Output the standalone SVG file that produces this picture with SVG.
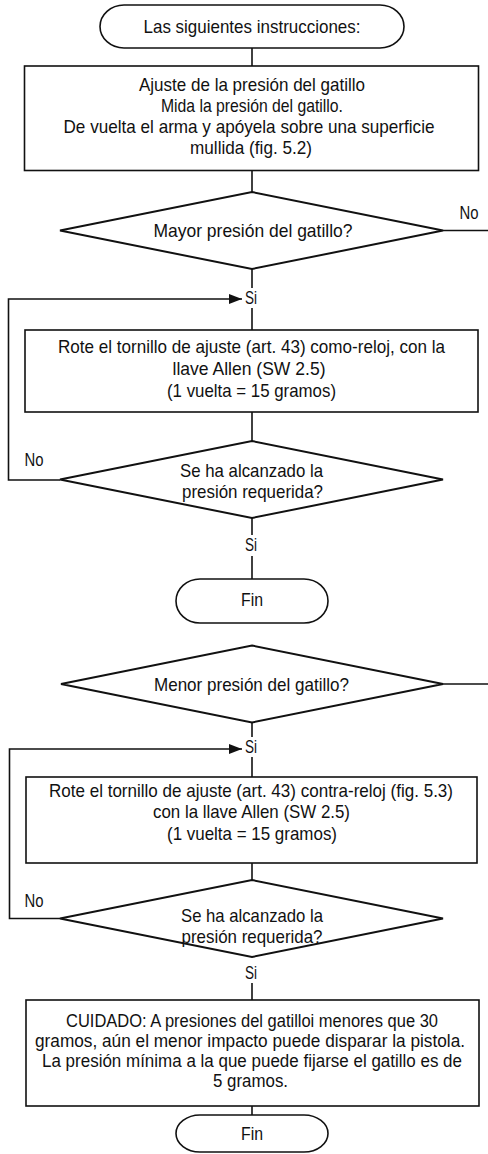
<svg xmlns="http://www.w3.org/2000/svg" width="488" height="1154" viewBox="0 0 488 1154">
<style>
  .shape { fill: #ffffff; stroke: #111111; stroke-width: 1.6; }
  .dia { fill: #ffffff; stroke: #111111; stroke-width: 2; stroke-linejoin: miter; }
  .line { fill: none; stroke: #111111; stroke-width: 1.6; }
  text { font-family: "Liberation Sans", Arial, sans-serif; font-size: 18.5px; fill: #111111; text-anchor: middle; }
  .small { font-size: 17.5px; }
</style>
<defs>
  <marker id="arrow" markerUnits="userSpaceOnUse" markerWidth="14" markerHeight="12" refX="13" refY="5" orient="auto">
    <path d="M0,0 L13,5 L0,10 Z" fill="#111111"/>
  </marker>
</defs>
<rect width="488" height="1154" fill="#ffffff"/>

<g id="connectors">
  <path class="line" d="M252,48 V66"/>
  <path class="line" d="M252,170.5 V192"/>
  <path class="line" d="M443,230.5 H488"/>
  <text x="469" y="219" textLength="19" lengthAdjust="spacingAndGlyphs">No</text>
  <path class="line" d="M252,269 V288"/>
  <text x="251" y="304" textLength="12" lengthAdjust="spacingAndGlyphs">Si</text>
  <path class="line" d="M252,308 V330"/>
  <path class="line" d="M60,480 H8.5 V299 H242" marker-end="url(#arrow)"/>
  <path class="line" d="M252,412 V441"/>
  <text x="34" y="466" textLength="19" lengthAdjust="spacingAndGlyphs">No</text>
  <path class="line" d="M252,518 V535"/>
  <text x="251" y="551" textLength="12" lengthAdjust="spacingAndGlyphs">Si</text>
  <path class="line" d="M252,556 V579"/>
  <path class="line" d="M443,684 H488"/>
  <path class="line" d="M252,722.5 V737"/>
  <text x="251" y="753" textLength="12" lengthAdjust="spacingAndGlyphs">Si</text>
  <path class="line" d="M252,757 V777"/>
  <path class="line" d="M60,918.5 H9.5 V749 H242" marker-end="url(#arrow)"/>
  <path class="line" d="M252,863 V880"/>
  <text x="34" y="907" textLength="19" lengthAdjust="spacingAndGlyphs">No</text>
  <text x="251" y="979" textLength="12" lengthAdjust="spacingAndGlyphs">Si</text>
  <path class="line" d="M252,983 V1000"/>
  <path class="line" d="M252,1106 V1115"/>
</g>

<g id="start">
  <rect class="shape" x="100" y="5" width="304" height="43" rx="24" ry="21.5"/>
  <text x="252" y="33" textLength="217" lengthAdjust="spacingAndGlyphs">Las siguientes instrucciones:</text>
</g>

<g id="measure">
  <rect class="shape" x="24.5" y="66" width="454" height="104.5"/>
  <text x="252" y="91" textLength="226" lengthAdjust="spacingAndGlyphs">Ajuste de la presión del gatillo</text>
  <text x="252" y="112" textLength="182" lengthAdjust="spacingAndGlyphs">Mida la presión del gatillo.</text>
  <text x="249" y="133" textLength="371" lengthAdjust="spacingAndGlyphs">De vuelta el arma y apóyela sobre una superficie</text>
  <text x="251" y="154" textLength="122" lengthAdjust="spacingAndGlyphs">mullida (fig. 5.2)</text>
</g>

<g id="decision-mayor">
  <polygon class="dia" points="252,192 443,230.5 252,269 60,230.5"/>
  <text x="253" y="237" textLength="199" lengthAdjust="spacingAndGlyphs">Mayor presión del gatillo?</text>
</g>

<g id="rotate-clockwise">
  <rect class="shape" x="25" y="330" width="453" height="82"/>
  <text x="251.5" y="353" textLength="387" lengthAdjust="spacingAndGlyphs">Rote el tornillo de ajuste (art. 43) como-reloj, con la</text>
  <text x="249" y="375" textLength="153" lengthAdjust="spacingAndGlyphs">llave Allen (SW 2.5)</text>
  <text x="251.5" y="397" textLength="169" lengthAdjust="spacingAndGlyphs">(1 vuelta = 15 gramos)</text>
</g>

<g id="decision-reached-1">
  <polygon class="dia" points="252,441 443,479.5 252,518 60,479.5"/>
  <text x="251.5" y="477" textLength="143" lengthAdjust="spacingAndGlyphs">Se ha alcanzado la</text>
  <text x="252.5" y="498" textLength="141" lengthAdjust="spacingAndGlyphs">presión requerida?</text>
</g>

<g id="end-1">
  <rect class="shape" x="176" y="579" width="152" height="44" rx="24" ry="22"/>
  <text x="252" y="606" textLength="22" lengthAdjust="spacingAndGlyphs">Fin</text>
</g>

<g id="decision-menor">
  <polygon class="dia" points="252,645.5 443,684 252,722.5 61,684"/>
  <text x="251.5" y="691" textLength="195" lengthAdjust="spacingAndGlyphs">Menor presión del gatillo?</text>
</g>

<g id="rotate-counter">
  <rect class="shape" x="26" y="777" width="451" height="86"/>
  <text x="251" y="797" textLength="404" lengthAdjust="spacingAndGlyphs">Rote el tornillo de ajuste (art. 43) contra-reloj (fig. 5.3)</text>
  <text x="251.5" y="818" textLength="197" lengthAdjust="spacingAndGlyphs">con la llave Allen (SW 2.5)</text>
  <text x="252" y="840" textLength="170" lengthAdjust="spacingAndGlyphs">(1 vuelta = 15 gramos)</text>
</g>

<g id="decision-reached-2">
  <polygon class="dia" points="252,880 443,918.5 252,957 60,918.5"/>
  <text x="252" y="922" textLength="142" lengthAdjust="spacingAndGlyphs">Se ha alcanzado la</text>
  <text x="252" y="943" textLength="141" lengthAdjust="spacingAndGlyphs">presión requerida?</text>
</g>

<g id="warning">
  <rect class="shape" x="26" y="1000" width="453" height="106"/>
  <text class="small" x="252" y="1027" textLength="372" lengthAdjust="spacingAndGlyphs">CUIDADO: A presiones del gatilloi menores que 30</text>
  <text class="small" x="250" y="1047" textLength="430" lengthAdjust="spacingAndGlyphs">gramos, aún el menor impacto puede disparar la pistola.</text>
  <text class="small" x="252" y="1067" textLength="420" lengthAdjust="spacingAndGlyphs">La presión mínima a la que puede fijarse el gatillo es de</text>
  <text class="small" x="250.5" y="1087" textLength="75" lengthAdjust="spacingAndGlyphs">5 gramos.</text>
</g>

<g id="end-2">
  <rect class="shape" x="176" y="1115" width="152" height="37" rx="24" ry="18.5"/>
  <text x="252" y="1140" textLength="22" lengthAdjust="spacingAndGlyphs">Fin</text>
</g>
</svg>
